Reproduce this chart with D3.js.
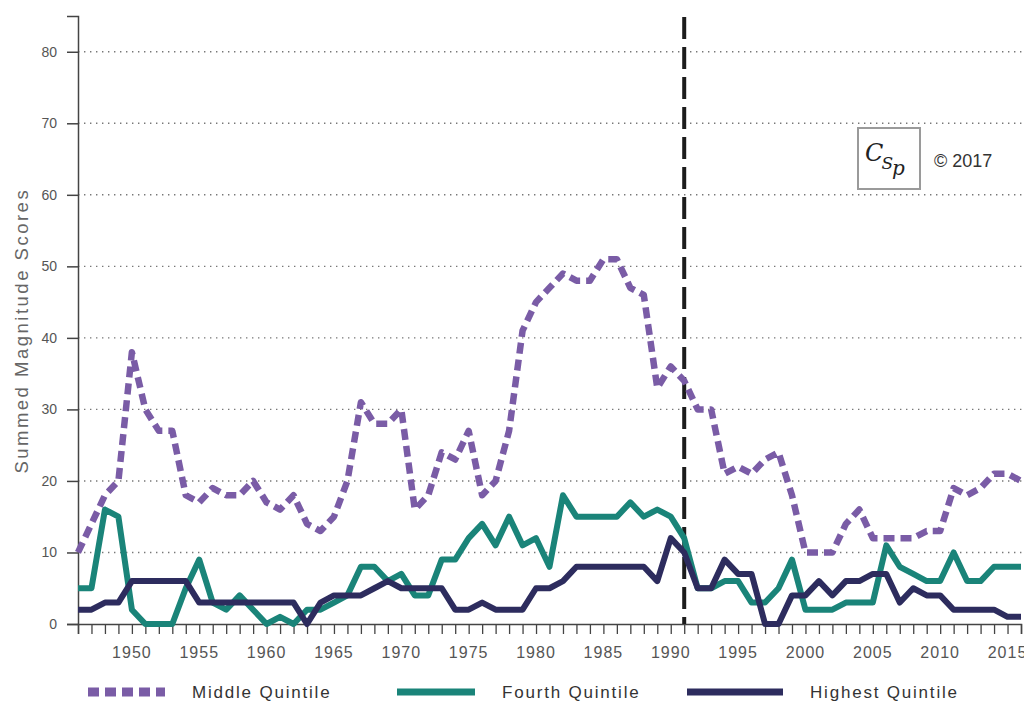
<!DOCTYPE html>
<html>
<head>
<meta charset="utf-8">
<script src="https://cdn.jsdelivr.net/npm/d3@7"></script>
<style>
  body { margin: 0; background: #fff; }
  svg { display: block; font-family: "Liberation Sans", Arial, sans-serif; }
</style>
</head>
<body>
<div id="chart"></div>
<script>
/* global d3 */

// years on the x axis, one point per year
var years = d3.range(1946, 2017);

var middleQuintile = [
  10, 14, 18, 20, 38, 30, 27, 27, 18, 17,
  19, 18, 18, 20, 17, 16, 18, 14, 13, 15,
  20, 31, 28, 28, 30, 16, 18, 24, 23, 27,
  18, 20, 27, 41, 45, 47, 49, 48, 48, 51,
  51, 47, 46, 33, 36, 34, 30, 30, 21, 22,
  21, 23, 24, 18, 10, 10, 10, 14, 16, 12,
  12, 12, 12, 13, 13, 19, 18, 19, 21, 21,
  20
];

var fourthQuintile = [
  5, 5, 16, 15, 2, 0, 0, 0, 5, 9,
  3, 2, 4, 2, 0, 1, 0, 2, 2, 3,
  4, 8, 8, 6, 7, 4, 4, 9, 9, 12,
  14, 11, 15, 11, 12, 8, 18, 15, 15, 15,
  15, 17, 15, 16, 15, 12, 5, 5, 6, 6,
  3, 3, 5, 9, 2, 2, 2, 3, 3, 3,
  11, 8, 7, 6, 6, 10, 6, 6, 8, 8,
  8
];

var highestQuintile = [
  2, 2, 3, 3, 6, 6, 6, 6, 6, 3,
  3, 3, 3, 3, 3, 3, 3, 0, 3, 4,
  4, 4, 5, 6, 5, 5, 5, 5, 2, 2,
  3, 2, 2, 2, 5, 5, 6, 8, 8, 8,
  8, 8, 8, 6, 12, 10, 5, 5, 9, 7,
  7, 0, 0, 4, 4, 6, 4, 6, 6, 7,
  7, 3, 5, 4, 4, 2, 2, 2, 2, 1,
  1
];

var yTicks = [0, 10, 20, 30, 40, 50, 60, 70, 80];
var xLabelYears = [1950, 1955, 1960, 1965, 1970, 1975, 1980, 1985, 1990, 1995, 2000, 2005, 2010, 2015];
var markerYear = 1991;

var seriesNames = ["Middle Quintile", "Fourth Quintile", "Highest Quintile"];
var seriesColors = ["#7a5ca6", "#1a8479", "#2d2c5e"];

var width = 1024,
  height = 710,
  margin = {top: 16, right: 3, bottom: 86, left: 78},
  innerWidth = width - margin.left - margin.right,
  innerHeight = height - margin.top - margin.bottom;

var xScale = d3.scaleLinear()
    .domain([1946, 2016])
    .range([0, innerWidth]);

var yScale = d3.scaleLinear()
    .domain([0, 85])
    .range([innerHeight, 0]);

var svg = d3.select("#chart").append("svg")
    .attr("width", width)
    .attr("height", height);

var g = svg.append("g")
    .attr("transform", "translate(" + margin.left + "," + margin.top + ")");

// dotted grid lines
g.selectAll(".grid")
  .data(yTicks.filter(function (d) { return d > 0; }))
  .enter().append("line")
    .attr("x1", 0)
    .attr("x2", width - margin.left)
    .attr("y1", function (d) { return yScale(d); })
    .attr("y2", function (d) { return yScale(d); })
    .attr("stroke", "#777")
    .attr("stroke-width", 1.4)
    .attr("stroke-dasharray", "1.4,4.6");

// y axis
var yAxis = g.append("g")
    .call(d3.axisLeft(yScale).tickValues(yTicks).tickSize(11).tickPadding(10));
yAxis.select(".domain").attr("stroke", "#444").attr("stroke-width", 1.5);
yAxis.selectAll(".tick line").attr("stroke", "#444").attr("stroke-width", 1.5);
yAxis.selectAll("text")
    .attr("fill", "#555")
    .style("font-size", "14px");

// x axis, one tick per year (labels drawn separately every 5 years)
var xAxis = g.append("g")
    .attr("transform", "translate(0," + innerHeight + ")")
    .call(d3.axisBottom(xScale).tickValues(years).tickSize(10).tickFormat(""));
xAxis.select(".domain").attr("stroke", "#444").attr("stroke-width", 1.5);
xAxis.selectAll(".tick line").attr("stroke", "#444").attr("stroke-width", 1.3);
xAxis.selectAll(".tick text").remove();

g.selectAll(".xlabel")
  .data(xLabelYears)
  .enter().append("text")
    .attr("x", function (d) { return xScale(d); })
    .attr("y", innerHeight + 34)
    .attr("text-anchor", "middle")
    .attr("fill", "#555")
    .style("font-size", "16px")
    .style("letter-spacing", "1px")
    .text(function (d) { return d; });

// y axis title
svg.append("text")
    .attr("transform", "translate(28," + (margin.top + yScale(41)) + ") rotate(-90)")
    .attr("text-anchor", "middle")
    .attr("fill", "#666")
    .style("font-size", "18.5px")
    .style("letter-spacing", "2.5px")
    .text("Summed Magnitude Scores");

// vertical marker line
g.append("line")
    .attr("x1", xScale(markerYear))
    .attr("x2", xScale(markerYear))
    .attr("y1", 1)
    .attr("y2", innerHeight)
    .attr("stroke", "#1c1c1c")
    .attr("stroke-width", 4)
    .attr("stroke-dasharray", "22,8");

var line = d3.line()
    .x(function (d, i) { return xScale(years[i]); })
    .y(function (d) { return yScale(d); });

var series = [fourthQuintile, highestQuintile, middleQuintile];
var seriesIdx = [1, 2, 0];

g.selectAll(".series")
  .data(series)
  .enter().append("path")
    .attr("d", line)
    .attr("fill", "none")
    .attr("stroke", function (d, i) { return seriesColors[seriesIdx[i]]; })
    .attr("stroke-width", function (d, i) { return seriesIdx[i] === 0 ? 6.5 : 6; })
    .attr("stroke-dasharray", function (d, i) { return seriesIdx[i] === 0 ? "11,6" : null; })
    .attr("stroke-linejoin", "round");

// copyright logo
var logo = svg.append("g");
logo.append("rect")
    .attr("x", 858).attr("y", 128)
    .attr("width", 62).attr("height", 61)
    .attr("fill", "#fff")
    .attr("stroke", "#9a9a9a")
    .attr("stroke-width", 2);
var mark = logo.append("text")
    .attr("x", 865).attr("y", 161)
    .attr("fill", "#222")
    .style("font-family", "'DejaVu Serif', serif")
    .style("font-style", "italic");
mark.append("tspan").style("font-size", "24px").text("C");
mark.append("tspan").attr("dy", 8).attr("dx", -2).style("font-size", "17px").text("S");
mark.append("tspan").attr("dy", 6).attr("dx", -1).style("font-size", "20px").text("p");
svg.append("text")
    .attr("x", 934).attr("y", 167)
    .attr("fill", "#333")
    .style("font-size", "18px")
    .text("\u00a9 2017");

// legend
var legendX = [88, 397, 687],
  legendLen = [77, 78, 96];

var legend = svg.selectAll(".legend")
  .data(seriesNames)
  .enter().append("g")
    .attr("transform", function (d, i) { return "translate(" + legendX[i] + ",692)"; });

legend.append("line")
    .attr("x1", 0)
    .attr("x2", function (d, i) { return legendLen[i]; })
    .attr("stroke", function (d, i) { return seriesColors[i]; })
    .attr("stroke-width", function (d, i) { return i === 0 ? 9 : 7; })
    .attr("stroke-dasharray", function (d, i) { return i === 0 ? "11,6" : null; });

legend.append("text")
    .attr("x", function (d, i) { return legendLen[i] + 27; })
    .attr("y", 6)
    .attr("fill", "#333")
    .style("font-size", "17px")
    .style("letter-spacing", "1.8px")
    .text(function (d) { return d; });
</script>
</body>
</html>
